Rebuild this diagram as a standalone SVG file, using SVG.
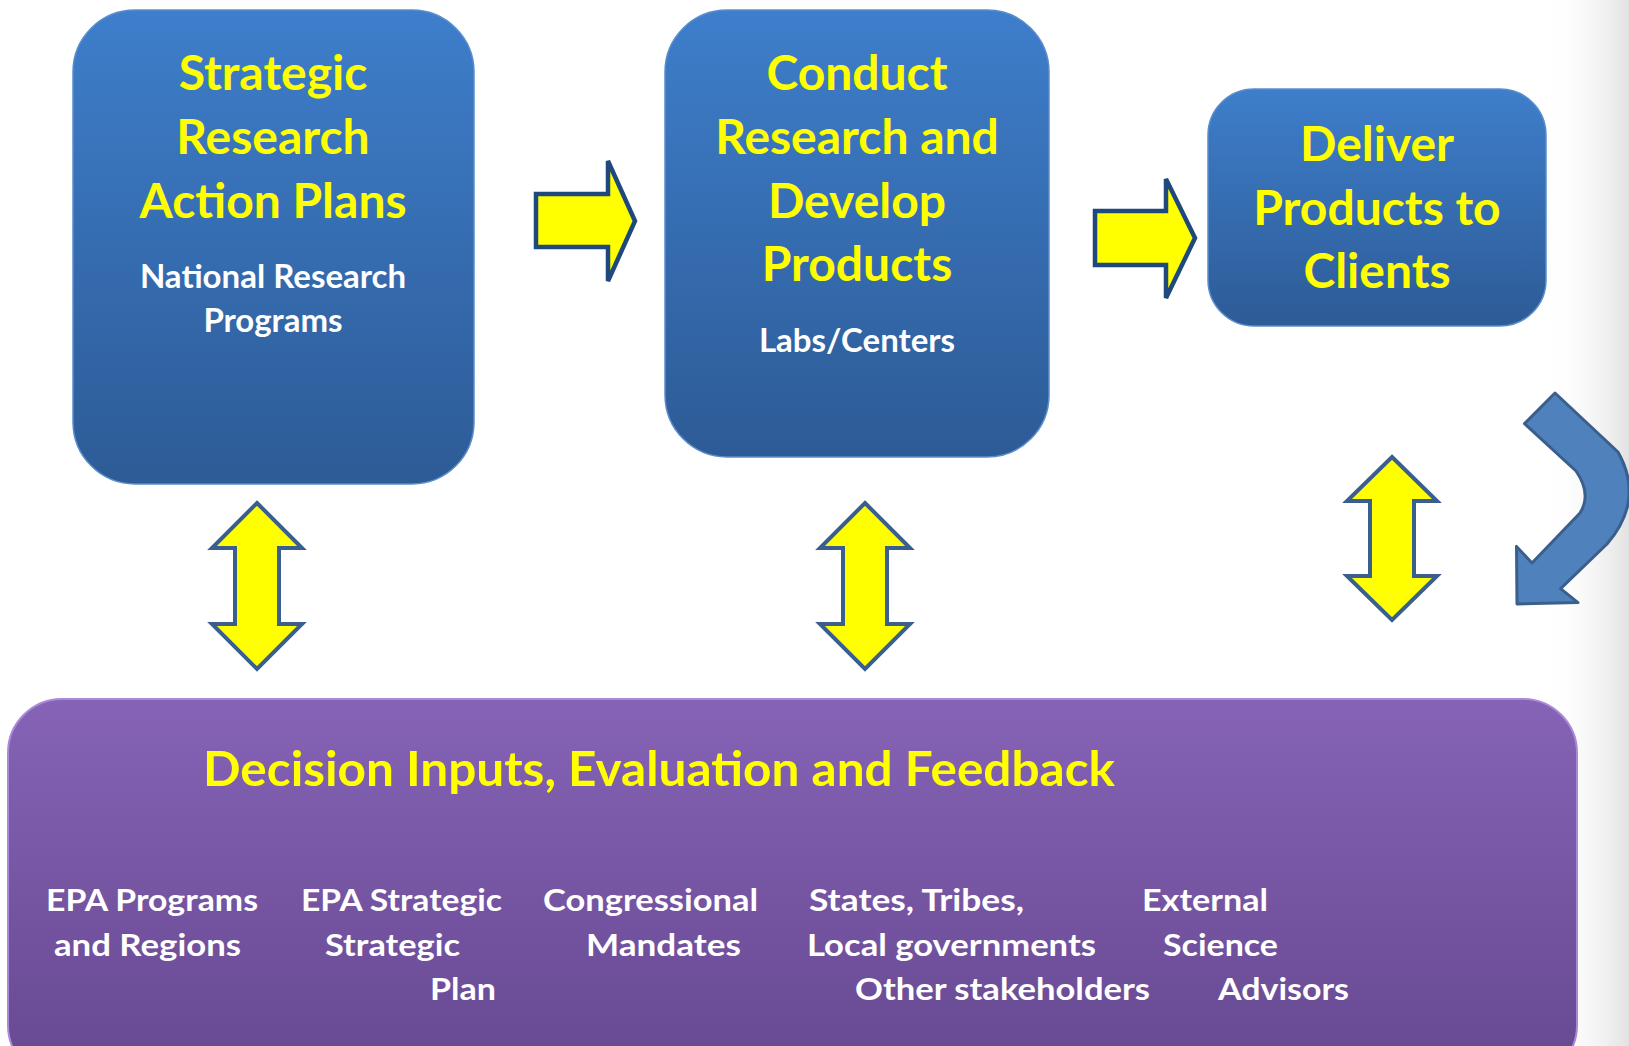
<svg xmlns="http://www.w3.org/2000/svg" width="1629" height="1046" viewBox="0 0 1629 1046">
  <defs>
    <linearGradient id="blueFill" x1="0" y1="0" x2="0" y2="1">
      <stop offset="0" stop-color="#3e7ecb"/>
      <stop offset="1" stop-color="#2d5b96"/>
    </linearGradient>
    <linearGradient id="purpleFill" x1="0" y1="0" x2="0" y2="1">
      <stop offset="0" stop-color="#8663b6"/>
      <stop offset="1" stop-color="#664890"/>
    </linearGradient>
    <linearGradient id="edgeShade" x1="0" y1="0" x2="1" y2="0">
      <stop offset="0" stop-color="#ffffff" stop-opacity="0"/>
      <stop offset="1" stop-color="#e2e2e2"/>
    </linearGradient>
    <style>
      .box { fill: url(#blueFill); stroke: #5a8dcc; stroke-width: 1.5; }
      .panel { fill: url(#purpleFill); stroke: #a98ad9; stroke-width: 2; }
      .title { font-family: Lato, "Open Sans", sans-serif; font-weight: bold; fill: #ffff00; text-anchor: middle; }
      .sub { font-family: Lato, "Open Sans", sans-serif; font-weight: bold; fill: #ffffff; text-anchor: middle; }
      .item { font-family: Lato, "Open Sans", sans-serif; font-weight: bold; fill: #ffffff; font-size: 31px; }
      .flow { fill: #ffff00; stroke: #1f497d; stroke-width: 4.5; stroke-linejoin: miter; }
      .both { fill: #ffff00; stroke: #3a5f8e; stroke-width: 4; stroke-linejoin: miter; }
      .loop { fill: #4f81bd; stroke: #3b5f8c; stroke-width: 3; stroke-linejoin: round; }
    </style>
  </defs>

  <!-- page background with soft edge shading -->
  <rect x="0" y="0" width="1629" height="1046" fill="#ffffff"/>
  <rect x="1545" y="0" width="84" height="1046" fill="url(#edgeShade)"/>

  <!-- Strategic Research Action Plans -->
  <g id="node-plans">
    <rect class="box" x="73" y="10" width="401" height="474" rx="62" ry="62"/>
    <text class="title" font-size="48" x="273" y="90">Strategic</text>
    <text class="title" font-size="48" x="273" y="154">Research</text>
    <text class="title" font-size="48" x="273" y="218">Action Plans</text>
    <text class="sub" font-size="33" x="273" y="288">National Research</text>
    <text class="sub" font-size="33" x="273" y="332">Programs</text>
  </g>

  <!-- Conduct Research and Develop Products -->
  <g id="node-research">
    <rect class="box" x="665" y="10" width="384" height="447" rx="62" ry="62"/>
    <text class="title" font-size="48" x="857" y="90">Conduct</text>
    <text class="title" font-size="48" x="857" y="154">Research and</text>
    <text class="title" font-size="48" x="857" y="218">Develop</text>
    <text class="title" font-size="48" x="857" y="281">Products</text>
    <text class="sub" font-size="33" x="857" y="352">Labs/Centers</text>
  </g>

  <!-- Deliver Products to Clients -->
  <g id="node-deliver">
    <rect class="box" x="1208" y="89" width="338" height="237" rx="46" ry="46"/>
    <text class="title" font-size="48" x="1377" y="161">Deliver</text>
    <text class="title" font-size="48" x="1377" y="225">Products to</text>
    <text class="title" font-size="48" x="1377" y="288">Clients</text>
  </g>

  <!-- Decision Inputs, Evaluation and Feedback -->
  <g id="node-feedback">
    <rect class="panel" x="8" y="699" width="1569" height="380" rx="54" ry="54"/>
    <text class="title" font-size="47" x="659" y="786" textLength="912" lengthAdjust="spacingAndGlyphs">Decision Inputs, Evaluation and Feedback</text>
    <text class="item" x="46" y="911" textLength="212" lengthAdjust="spacingAndGlyphs">EPA Programs</text>
    <text class="item" x="54" y="956" textLength="187" lengthAdjust="spacingAndGlyphs">and Regions</text>
    <text class="item" x="301" y="911" textLength="201" lengthAdjust="spacingAndGlyphs">EPA Strategic</text>
    <text class="item" x="325" y="956" textLength="135" lengthAdjust="spacingAndGlyphs">Strategic</text>
    <text class="item" x="430" y="1000" textLength="66" lengthAdjust="spacingAndGlyphs">Plan</text>
    <text class="item" x="543" y="911" textLength="215" lengthAdjust="spacingAndGlyphs">Congressional</text>
    <text class="item" x="586" y="956" textLength="155" lengthAdjust="spacingAndGlyphs">Mandates</text>
    <text class="item" x="809" y="911" textLength="215" lengthAdjust="spacingAndGlyphs">States, Tribes,</text>
    <text class="item" x="807" y="956" textLength="289" lengthAdjust="spacingAndGlyphs">Local governments</text>
    <text class="item" x="855" y="1000" textLength="295" lengthAdjust="spacingAndGlyphs">Other stakeholders</text>
    <text class="item" x="1142" y="911" textLength="126" lengthAdjust="spacingAndGlyphs">External</text>
    <text class="item" x="1163" y="956" textLength="115" lengthAdjust="spacingAndGlyphs">Science</text>
    <text class="item" x="1218" y="1000" textLength="131" lengthAdjust="spacingAndGlyphs">Advisors</text>
  </g>

  <!-- connectors -->
  <g id="connectors">
    <!-- forward flow arrows -->
    <polygon class="flow" points="536,194 608,194 608,161 635,221 608,281 608,247 536,247"/>
    <polygon class="flow" points="1095,211 1166,211 1166,179 1195,238 1166,298 1166,265 1095,265"/>
    <!-- two-way exchange with the feedback panel -->
    <polygon class="both" points="257,503 302,548 279,548 279,624 302,624 257,669 212,624 235,624 235,548 212,548"/>
    <polygon class="both" points="865,503 910,548 887,548 887,624 910,624 865,669 820,624 843,624 843,548 820,548"/>
    <polygon class="both" points="1392,457 1437,501 1414,501 1414,576 1437,576 1392,620 1347,576 1370,576 1370,501 1347,501"/>
    <!-- return loop from delivery back into feedback -->
    <path class="loop" d="M1555,393 L1524.5,423.6 L1576,471 Q1592,494 1580,513 L1532,563 L1516.5,546.4 L1517,604 L1578,602.6 L1560.6,588.7 L1607,544 Q1645,500 1618,452 Z"/>
  </g>
</svg>
